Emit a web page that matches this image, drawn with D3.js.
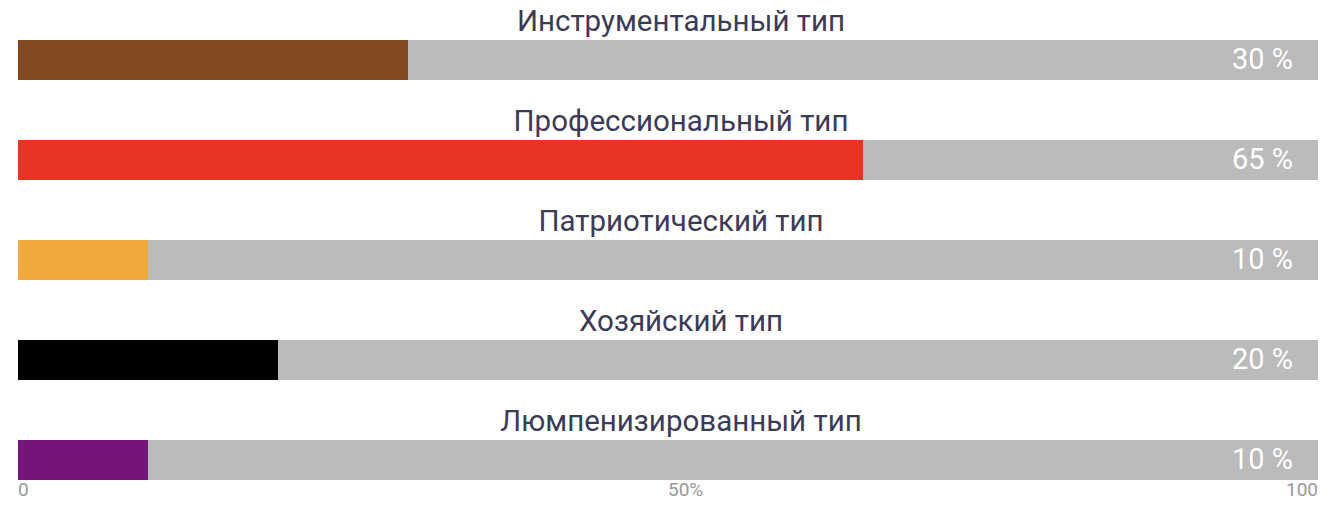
<!DOCTYPE html>
<html><head><meta charset="utf-8">
<script src="https://cdn.jsdelivr.net/npm/d3@7"></script>
<style>body{margin:0;background:#fff;}svg{display:block;font-family:Roboto,sans-serif;}</style>
</head><body>
<script>
const categories = ["Инструментальный тип","Профессиональный тип","Патриотический тип","Хозяйский тип","Люмпенизированный тип"];
const values = [30, 65, 10, 20, 10];
const colors = ["#824a22","#e93325","#f0a93e","#000000","#75147a"];
const tickLabels = ["0","50%","100"];
const tickValues = [0, 50, 100];

const W = 1328, H = 508;
const svg = d3.select("body").append("svg").attr("width", W).attr("height", H);
const x = d3.scaleLinear().domain([0, 100]).range([18, 1318]);
const y = d3.scaleBand().domain(categories).range([0, 500]).paddingInner(0);
const barH = 40;

const g = svg.selectAll("g.row").data(categories).enter().append("g");
g.append("rect").attr("x", x(0)).attr("y", d => y(d) + 40).attr("width", x(100) - x(0)).attr("height", barH).attr("fill", "#babbba");
g.append("rect").attr("x", x(0)).attr("y", d => y(d) + 40).attr("width", (d,i) => x(values[i]) - x(0)).attr("height", barH).attr("fill", (d,i) => colors[i]);
g.append("text").attr("x", 681).attr("y", d => y(d) + 31).attr("text-anchor", "middle")
  .attr("font-size", 29.5).attr("fill", "#3b3b58").text(d => d);
g.append("text").attr("x", x(100) - 25).attr("y", d => y(d) + 69).attr("text-anchor", "end")
  .attr("font-size", 29).attr("fill", "#ffffff").text((d,i) => values[i] + " %");

const anchors = ["start","start","end"];
svg.selectAll("text.tick").data(tickValues).enter().append("text")
  .attr("x", d => x(d)).attr("y", 496).attr("text-anchor", (d,i) => anchors[i])
  .attr("font-size", 19).attr("fill", "#999999").text((d,i) => tickLabels[i]);
</script>
</body></html>
